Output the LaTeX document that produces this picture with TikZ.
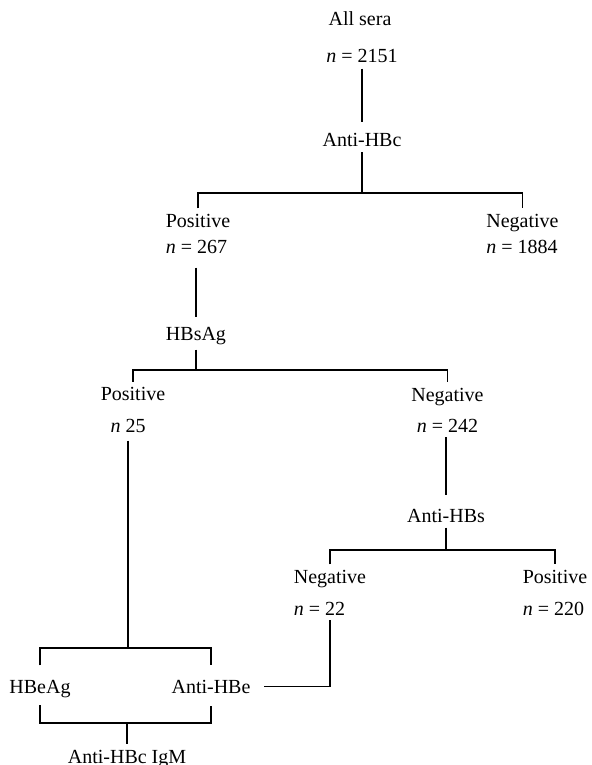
\documentclass[tikz,border=0pt]{standalone}
\usepackage{fontspec}
\setmainfont{Liberation Serif}

\begin{document}
\begin{tikzpicture}[
        x=0.5pt, y=-0.5pt, % pixel-like grid, y downwards
        % Define styles
        lbl/.style={inner sep=2.5pt, font=\fontsize{10}{12}\selectfont},
        link/.style={line width=0.8pt}
    ]
    \useasboundingbox (0,0) rectangle (591,765);

    % --- Labels ---

    % Root
    \node[lbl, anchor=base] (allsera) at (360,26) {All sera};
    \node[lbl, anchor=base] (total) at (362,63) {\textit{n} = 2151};
    \node[lbl, anchor=base] (antihbc) at (362,146.5) {Anti-HBc};

    % Anti-HBc results
    \node[lbl, anchor=base] (pos1) at (198,227) {Positive};
    \node[lbl, anchor=base west] (n267) at ([yshift=-13pt]pos1.base west) {\textit{n} = 267};
    \node[lbl, anchor=base] (neg1) at (522.5,227) {Negative};
    \node[lbl, anchor=base west] (n1884) at ([yshift=-13pt]neg1.base west) {\textit{n} = 1884};

    % HBsAg results
    \node[lbl, anchor=base] (hbsag) at (196,340) {HBsAg};
    \node[lbl, anchor=base] (pos2) at (133,400.5) {Positive};
    \node[lbl, anchor=base] (n25) at (128,432) {\textit{n} 25};
    \node[lbl, anchor=base] (neg2) at (447.5,401) {Negative};
    \node[lbl, anchor=base] (n242) at ([yshift=-15.5pt]neg2.base) {\textit{n} = 242};

    % Anti-HBs results
    \node[lbl, anchor=base] (antihbs) at (446,522) {Anti-HBs};
    \node[lbl, anchor=base] (neg3) at (330,583) {Negative};
    \node[lbl, anchor=base west] (n22) at ([yshift=-16pt]neg3.base west) {\textit{n} = 22};
    \node[lbl, anchor=base] (pos3) at (555,583) {Positive};
    \node[lbl, anchor=base west] (n220) at ([yshift=-16pt]pos3.base west) {\textit{n} = 220};

    % Bottom tests
    \node[lbl, anchor=base] (hbeag) at (40,693) {HBeAg};
    \node[lbl, anchor=base] (antihbe) at (211,693) {Anti-HBe};
    \node[lbl, anchor=base] (antihbcigm) at (127,763) {Anti-HBc IgM};

    % Junctions
    \coordinate (split1) at (362,193);
    \coordinate (split2) at (196,370);
    \coordinate (split3) at (446,550);
    \coordinate (split4) at (128,648);
    \coordinate (split5) at (127,723);

    % --- Connecting Lines ---

    \draw[link, shorten >=2.8pt] (total) -- (antihbc);
    \draw[link] (antihbc) -- (split1);
    \draw[link] (pos1.north) |- (split1) -| (neg1.north);

    \draw[link, shorten <=4.5pt, shorten >=2pt] (hbsag |- n267.south) -- (hbsag);
    \draw[link] (hbsag) -- (split2);
    \draw[link] (pos2.north) |- (split2) -| (neg2.north);

    \draw[link, shorten >=4pt] (antihbs |- n242.south) -- (antihbs);
    \draw[link] (antihbs) -- (split3);
    \draw[link] (neg3.north) |- (split3) -| (pos3.north);

    % Positive branch down to the bottom tests
    \draw[link, shorten <=1.5pt] (n25) -- (split4);
    \draw[link, shorten <=4.5pt, shorten >=4.5pt] (hbeag.north) |- (split4) -| (antihbe.north);

    % Negative n = 22 joins Anti-HBe
    \draw[link, shorten >=4pt] (neg3 |- n22.south) |- (antihbe);

    % HBeAg / Anti-HBe to Anti-HBc IgM
    \draw[link, shorten <=1.3pt, shorten >=3.5pt] (hbeag.south) |- (split5) -| (antihbe.south);
    \draw[link] (split5) -- (antihbcigm);

\end{tikzpicture}
\end{document}
